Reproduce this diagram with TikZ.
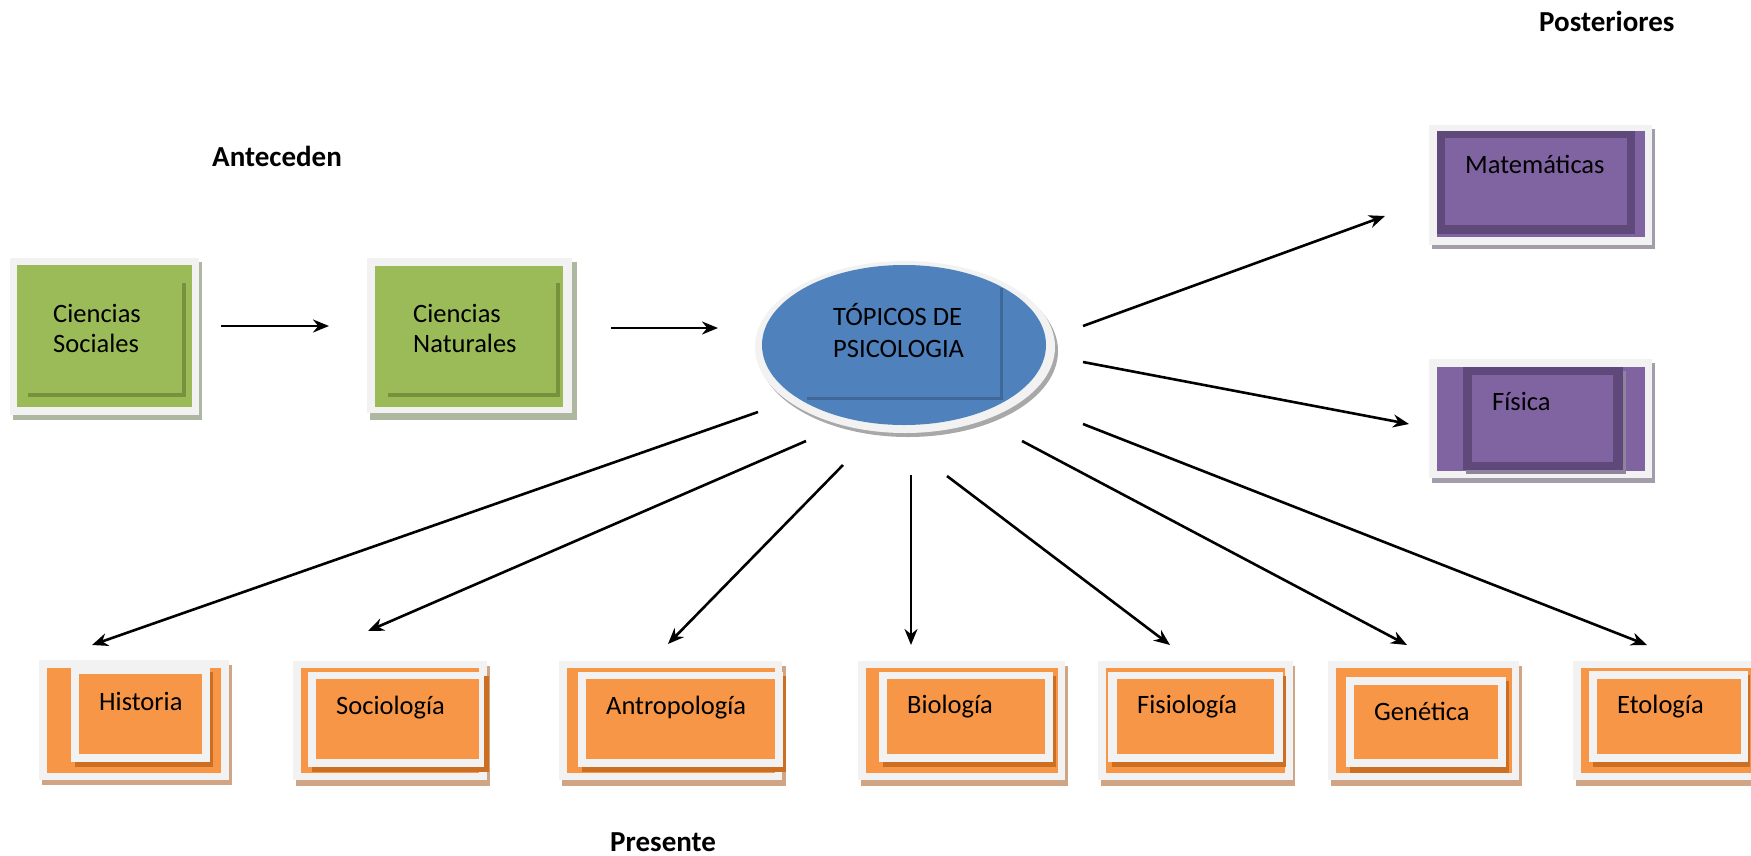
\documentclass[tikz,border=0pt]{standalone}
\usepackage{fontspec}
\setmainfont{Carlito}
\usetikzlibrary{arrows.meta,shapes.geometric}
\definecolor{frameC}{HTML}{F2F2F2}
\definecolor{greenC}{HTML}{9BBB59}
\definecolor{greenD}{HTML}{76923C}
\definecolor{greenS}{HTML}{AEB7A0}
\definecolor{blueC}{HTML}{4F81BD}
\definecolor{blueD}{HTML}{3F6797}
\definecolor{grayS}{HTML}{A8A8A8}
\definecolor{purpC}{HTML}{8064A2}
\definecolor{purpD}{HTML}{5F497A}
\definecolor{purpS}{HTML}{A39DAB}
\definecolor{orC}{HTML}{F79646}
\definecolor{orD}{HTML}{CC6F22}
\definecolor{orS}{HTML}{CFA586}
\newcommand\lay[5]{\fill[#1] (#2,#3) rectangle (#4,#5);}
\begin{document}
\begin{tikzpicture}[x=1pt,y=-1pt,
  txt/.style={inner sep=0pt,anchor=base west,font=\fontsize{26.5}{30}\selectfont},
  ttl/.style={inner sep=0pt,anchor=base west,font=\fontsize{29}{34}\selectfont\bfseries},
  boxn/.style={inner sep=0pt,anchor=north west},
  arr/.style={-{Stealth[length=16pt,width=13pt]},line width=2.6pt,black}]
\useasboundingbox (0,0) rectangle (1751,855);
% titles
\node[ttl] (tant) at (212,166) {Anteceden};
\node[ttl] (tpos) at (1539,31) {Posteriores};
\node[ttl] (tpre) at (610,851) {Presente};
% green boxes
\lay{greenS}{13}{262}{202}{420}
\node[boxn,fill=frameC,minimum width=189pt,minimum height=157pt] (cs) at (10,258) {};
\lay{greenC}{17}{265}{192}{407}
\draw[greenD,line width=4pt] (28,395) -- (184,395) -- (184,283);
\node[txt] (cs1) at (53,322) {Ciencias};
\node[txt] (cs2) at (53,352) {Sociales};
\lay{greenS}{370}{262}{577}{420}
\node[boxn,fill=frameC,minimum width=205pt,minimum height=155pt] (cn) at (367,258) {};
\lay{greenC}{375}{266}{563}{407}
\draw[greenD,line width=4pt] (388,395) -- (558,395) -- (558,283);
\node[txt] (cn1) at (413,322) {Ciencias};
\node[txt] (cn2) at (413,352) {Naturales};
% ellipse
\fill[grayS] (908,351) ellipse (150 and 86);
\node[ellipse,fill=frameC,minimum width=300pt,minimum height=172pt,inner sep=0pt] (top) at (905,347) {};
\fill[blueC] (904,345) ellipse (142 and 80);
\draw[blueD,line width=3pt] (807,398) -- (1001,398) -- (1001,288);
\node[txt] (top1) at (833,325) {TÓPICOS DE};
\node[txt] (top2) at (833,357) {PSICOLOGIA};
% purple boxes
\lay{purpS}{1432}{129}{1655}{249}
\node[boxn,fill=frameC,minimum width=223pt,minimum height=120pt] (mat) at (1429,125) {};
\lay{purpC}{1437}{131}{1645}{237}
\lay{purpD}{1437}{131}{1635}{234}
\lay{purpC}{1445}{138}{1627}{225}
\node[txt] (matt) at (1465,173) {Matemáticas};
\lay{purpS}{1432}{363}{1655}{483}
\node[boxn,fill=frameC,minimum width=223pt,minimum height=119pt] (fis) at (1429,359) {};
\lay{purpC}{1437}{367}{1645}{471}
\lay{purpS!70!purpD}{1466}{371}{1626}{474}
\lay{purpD}{1463}{367}{1623}{470}
\lay{purpC}{1472}{375}{1613}{462}
\node[txt] (fist) at (1492,410) {Física};
% orange boxes
\lay{orS}{42}{665}{232}{785}
\node[boxn,fill=frameC,minimum width=190pt,minimum height=120pt] (his) at (39,660) {};
\lay{orC}{47}{668}{221}{773}
\lay{orD}{75}{672}{213}{767}
\lay{frameC}{71}{668}{210}{762}
\lay{orC}{79}{674}{202}{754}
\node[txt] (hist) at (99,710) {Historia};
\lay{orS}{296}{666}{490}{786}
\node[boxn,fill=frameC,minimum width=194pt,minimum height=119pt] (soc) at (293,661) {};
\lay{orC}{301}{668}{479}{773}
\lay{orD}{312}{676}{489}{772}
\lay{frameC}{308}{672}{484}{767}
\lay{orC}{316}{679}{479}{759}
\node[txt] (soct) at (336,714) {Sociología};
\lay{orS}{562}{666}{786}{786}
\node[boxn,fill=frameC,minimum width=223pt,minimum height=119pt] (ant) at (559,661) {};
\lay{orC}{567}{668}{775}{773}
\lay{orD}{582}{676}{786}{772}
\lay{frameC}{578}{672}{783}{767}
\lay{orC}{586}{679}{775}{759}
\node[txt] (antt) at (606,714) {Antropología};
\lay{orS}{861}{666}{1068}{786}
\node[boxn,fill=frameC,minimum width=207pt,minimum height=119pt] (bio) at (858,661) {};
\lay{orC}{866}{668}{1058}{773}
\lay{orD}{883}{676}{1056}{767}
\lay{frameC}{879}{672}{1053}{762}
\lay{orC}{887}{679}{1045}{754}
\node[txt] (biot) at (907,713) {Biología};
\lay{orS}{1101}{666}{1295}{786}
\node[boxn,fill=frameC,minimum width=195pt,minimum height=119pt] (fsl) at (1098,661) {};
\lay{orC}{1106}{668}{1285}{773}
\lay{orD}{1112}{676}{1286}{767}
\lay{frameC}{1108}{672}{1283}{762}
\lay{orC}{1117}{679}{1274}{754}
\node[txt] (fslt) at (1137,713) {Fisiología};
\lay{orS}{1331}{666}{1522}{786}
\node[boxn,fill=frameC,minimum width=191pt,minimum height=119pt] (gen) at (1328,661) {};
\lay{orC}{1336}{668}{1512}{773}
\lay{orD}{1350}{681}{1509}{773}
\lay{frameC}{1346}{677}{1506}{767}
\lay{orC}{1354}{685}{1498}{759}
\node[txt] (gent) at (1374,720) {Genética};
\lay{orS}{1576}{666}{1751}{786}
\node[boxn,fill=frameC,minimum width=178pt,minimum height=119pt] (eto) at (1573,661) {};
\lay{orC}{1581}{668}{1751}{773}
\lay{orD}{1593}{675}{1750}{767}
\lay{frameC}{1589}{671}{1748}{762}
\lay{orC}{1597}{679}{1741}{754}
\node[txt] (etot) at (1617,713) {Etología};
% arrow end points
\coordinate (a1s) at (221,326); \coordinate (a1e) at (329,326);
\coordinate (a2s) at (611,328); \coordinate (a2e) at (718,328);
\coordinate (a3s) at (1083,326); \coordinate (a3e) at (1385,216);
\coordinate (a4s) at (1083,362); \coordinate (a4e) at (1409,424);
\coordinate (a5s) at (758,412); \coordinate (a5e) at (92,645);
\coordinate (a6s) at (806,441); \coordinate (a6e) at (368,631);
\coordinate (a7s) at (843,465); \coordinate (a7e) at (668,644);
\coordinate (a8s) at (911,475); \coordinate (a8e) at (911,645);
\coordinate (a9s) at (947,476); \coordinate (a9e) at (1170,645);
\coordinate (a10s) at (1022,441); \coordinate (a10e) at (1407,645);
\coordinate (a11s) at (1083,424); \coordinate (a11e) at (1647,645);
\foreach \i in {1,...,11} {\draw[arr] (a\i s) -- (a\i e);}
\end{tikzpicture}
\end{document}
